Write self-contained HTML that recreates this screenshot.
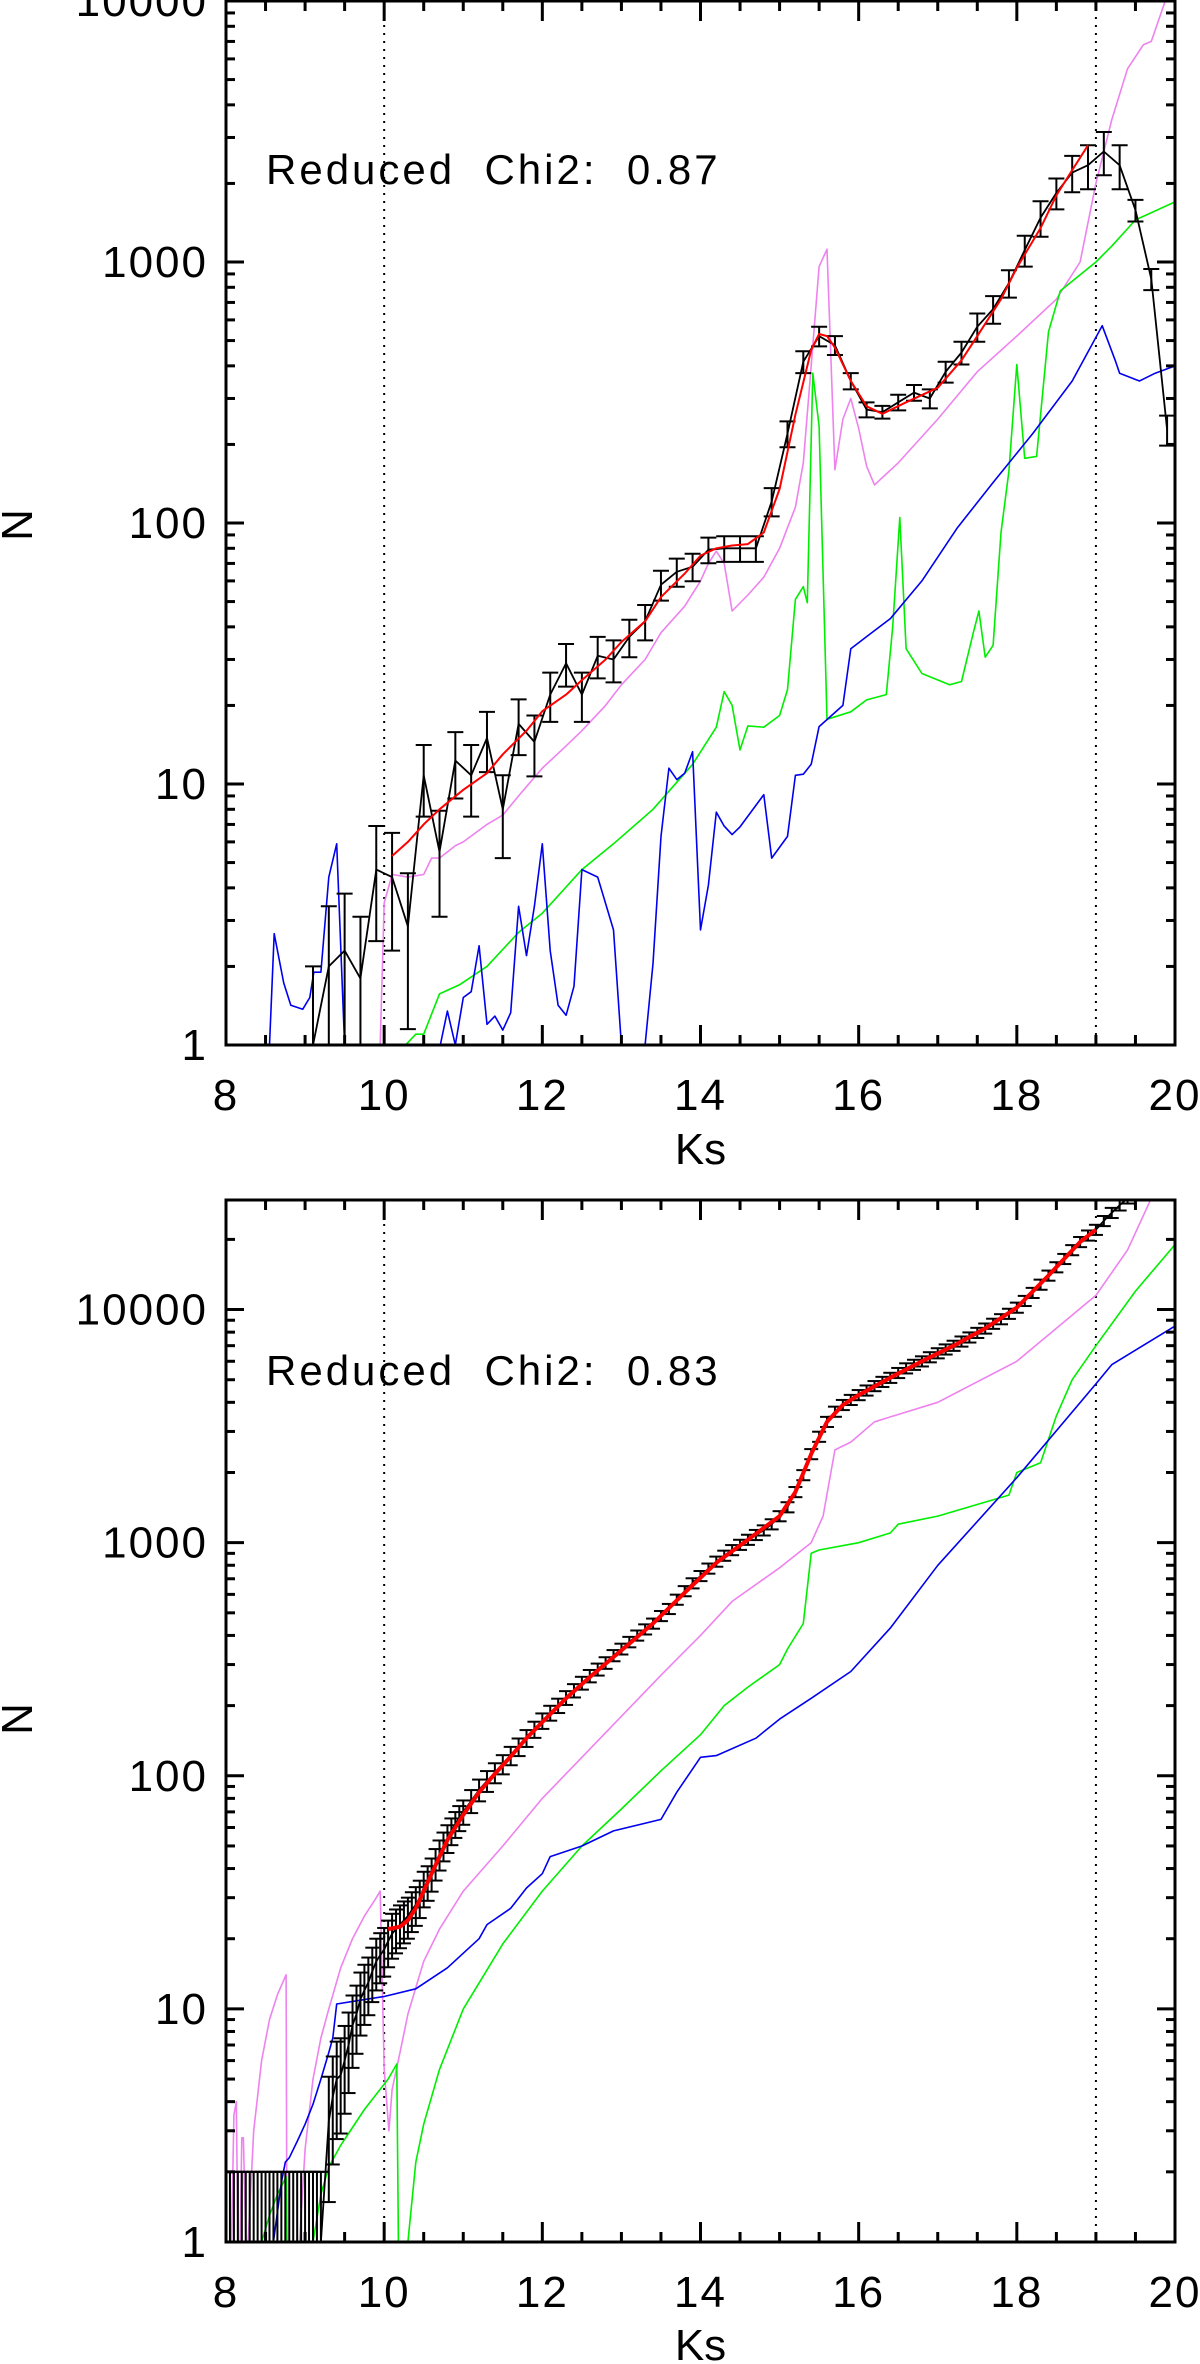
<!DOCTYPE html>
<html><head><meta charset="utf-8">
<style>
html,body{margin:0;padding:0;background:#fff;}
svg{display:block;}
text{font-family:"Liberation Sans","DejaVu Sans",sans-serif;fill:#000;}
</style></head>
<body>
<svg id="fig" width="1200" height="2364" viewBox="0 0 1200 2364" xmlns="http://www.w3.org/2000/svg"></svg>
<script>
// ---------- Top panel data ----------
const topObsX = [9.1,9.3,9.5,9.7,9.9,10.1,10.3,10.5,10.7,10.9,11.1,11.3,11.5,11.7,11.9,12.1,12.3,12.5,12.7,12.9,13.1,13.3,13.5,13.7,13.9,14.1,14.3,14.5,14.7,14.9,15.1,15.3,15.5,15.7,15.9,16.1,16.3,16.5,16.7,16.9,17.1,17.3,17.5,17.7,17.9,18.1,18.3,18.5,18.7,18.9,19.1,19.3,19.5,19.7,19.9];
const topObsN = [1,2,2.3,1.8,4.7,4.4,2.85,10.8,5.5,12.3,10.8,15,8,17,14.5,22,29,22,31,30,36.6,42,58,65,68,79,80,80,80,121,220,415,520,480,350,272,266,290,316,300,380,450,565,660,830,1110,1480,1840,2200,2350,2650,2350,1580,860,228];
const topObsErr = [1,1.4,1.5,1.3,2.2,2.1,1.7,3.3,2.4,3.5,3.3,3.9,2.8,4.1,3.8,4.7,5.4,4.7,5.6,5.5,6,6.5,7.6,8,8.2,8.9,9,9,9,15,25,40,45,40,25,18,15,20,22,25,35,45,70,80,100,150,230,250,350,450,500,450,150,80,30];
const topFitX = [10.1,10.3,10.5,10.7,11.0,11.3,11.5,11.8,12.0,12.3,12.5,12.8,13.0,13.3,13.5,13.8,14.0,14.2,14.4,14.6,14.8,15.0,15.2,15.4,15.5,15.6,15.7,15.9,16.1,16.3,16.6,17.0,17.3,17.5,17.8,18.0,18.3,18.5,18.7,18.9];
const topFitN = [5.3,6,7,8,9.5,11,13,16,19,22,25,30,35,42,52,64,75,80,82,83,92,135,260,460,530,520,470,350,280,262,290,330,420,520,720,950,1350,1800,2250,2800];
const topVioX = [9.95,10.0,10.1,10.3,10.5,10.6,10.7,10.9,11.0,11.3,11.5,11.7,12.0,12.3,12.5,12.8,13.0,13.3,13.5,13.8,14.0,14.1,14.2,14.3,14.4,14.6,14.8,15.0,15.2,15.3,15.4,15.5,15.6,15.7,15.8,15.9,16.0,16.1,16.2,16.5,17.0,17.5,18.0,18.5,18.8,19.0,19.2,19.4,19.6,19.7,19.9];
const topVioN = [1,3.5,4.5,4.4,4.5,5.2,5.2,5.8,6,7,7.6,9,11.5,14,16,20,24,30,38,48,60,70,78,70,46,53,62,80,115,170,400,960,1120,160,250,300,230,165,140,170,250,380,520,720,1000,2000,3500,5500,6800,7000,10500];
const topGrnX = [10.27,10.4,10.5,10.7,10.95,11.3,11.7,12.0,12.5,12.9,13.4,13.9,14.2,14.3,14.4,14.5,14.6,14.8,15.0,15.1,15.2,15.3,15.35,15.42,15.5,15.6,15.9,16.1,16.35,16.43,16.52,16.6,16.8,17.15,17.3,17.45,17.52,17.6,17.7,17.8,17.9,18.0,18.1,18.25,18.4,18.55,19.0,19.2,19.5,20.0];
const topGrnN = [1,1.1,1.1,1.57,1.7,2,2.7,3.2,4.7,5.9,8,11.9,16.5,22.6,20,13.5,16.7,16.5,18.3,23,51,57,49.5,375,235,17.7,18.9,21,22,40,105,33,26.5,24,24.7,38,46,30.6,34,92,158,405,177,180,540,775,1000,1150,1450,1700];
const topBluX = [8.55,8.61,8.73,8.82,8.97,9.06,9.11,9.2,9.3,9.4,9.5,
  10.71,10.8,10.9,11.0,11.1,11.2,11.3,11.4,11.5,11.6,11.7,11.8,11.9,12.0,12.1,12.2,12.3,12.4,12.5,12.7,12.9,13.0,
  13.3,13.4,13.5,13.6,13.7,13.8,13.9,14.0,14.1,14.2,14.3,14.4,14.5,14.8,14.9,15.1,15.2,15.3,15.4,15.5,15.8,15.9,16.1,16.4,16.8,17.25,17.7,18.2,18.7,19.08,19.25,19.3,19.55,19.75,20.0];
const topBluN = [1,2.67,1.73,1.42,1.37,1.52,1.9,1.9,4.4,5.9,1,
  1,1.35,1,1.52,1.6,2.4,1.2,1.29,1.14,1.33,3.4,2.2,3.4,5.9,2.3,1.42,1.3,1.68,4.7,4.4,2.76,1,
  1,2.05,6.3,11.5,10.4,11,13.3,2.76,4.1,7.8,6.9,6.4,6.85,9.1,5.2,6.3,10.8,10.9,11.9,16.6,20,33,36.7,43,60,96,143,220,350,570,415,375,350,375,400];
const topBluBreaks = [11,33];

// ---------- Bottom panel data ----------
const botObsX = [8.0,8.05,8.1,8.15,8.2,8.25,8.3,8.35,8.4,8.45,8.5,8.55,8.6,8.65,8.7,8.75,8.8,8.85,8.9,8.95,9.0,9.05,9.1,9.15,9.2,
  9.3,9.35,9.4,9.45,9.5,9.55,9.6,9.65,9.7,9.75,9.8,9.85,9.9,9.95,10.0,10.05,10.1,10.15,10.2,10.25,10.3,10.35,10.4,10.45,10.5,10.55,10.6,10.65,10.7,10.75,10.8,10.85,10.9,10.95,11.0,11.1,11.2,11.3,11.4,11.5,11.6,11.7,11.8,11.9,12.0,12.1,12.2,12.3,12.4,12.5,12.6,12.7,12.8,12.9,13.0,13.1,13.2,13.3,13.4,13.5,13.6,13.7,13.8,13.9,14.0,14.1,14.2,14.3,14.4,14.5,14.6,14.7,14.8,14.9,15.0,15.1,15.2,15.3,15.4,15.5,15.6,15.7,15.8,15.9,16.0,16.1,16.2,16.3,16.4,16.5,16.6,16.7,16.8,16.9,17.0,17.1,17.2,17.3,17.4,17.5,17.6,17.7,17.8,17.9,18.0,18.1,18.2,18.3,18.4,18.5,18.6,18.7,18.8,18.9,19.0,19.1,19.2,19.3,19.4];
const botObsN = [1,1,1,1,1,1,1,1,1,1,1,1,1,1,1,1,1,1,1,1,1,1,1,1,1,
  3.3,4.2,5,5.2,6,7,8.5,9.5,11,12,13,14.5,16,17,18,19.5,21,22,23,24,25,26.5,28,30,33,35,38,42,46,50,54,58,62,66,70,78,87,95,103,112,122,133,145,158,172,186,200,216,232,250,268,286,305,328,350,375,400,425,450,485,520,570,620,670,720,775,830,880,930,980,1030,1080,1130,1200,1300,1420,1650,1950,2400,2850,3300,3650,3900,4100,4300,4500,4700,4900,5100,5350,5600,5800,6000,6250,6500,6750,7000,7300,7600,7950,8300,8700,9100,9600,10200,10900,11800,12800,14000,15200,16500,18000,19500,20800,22000,24000,26000,28000,30000];
const botErrMinFrac = 0.05;
const botFitX = [10.05,10.2,10.3,10.4,10.5,10.6,10.7,10.8,11.0,11.2,11.4,11.6,11.8,12.0,12.3,12.6,13.0,13.4,13.8,14.2,14.6,15.0,15.2,15.4,15.6,15.8,16.0,16.4,16.8,17.2,17.6,18.0,18.4,18.8,19.0];
const botFitN = [22,22.5,24,27,32,38,45,53,68,85,102,121,145,170,215,265,345,450,610,820,1030,1300,1650,2400,3300,3900,4300,5100,6000,7000,8300,10200,14000,19500,22000];
const botVioX = [8.07,8.1,8.13,8.15,8.18,8.2,8.22,8.25,8.28,8.35,8.45,8.55,8.65,8.76,8.77,8.93,9.0,9.1,9.2,9.3,9.45,9.6,9.75,9.9,9.95,10.0,10.06,10.1,10.2,10.3,10.5,10.7,11.0,11.5,12.0,12.5,13.0,13.5,14.0,14.4,15.0,15.4,15.55,15.7,15.9,16.2,17.0,18.0,19.0,19.4,19.7];
const botVioN = [1,3.5,4,1,1,2.8,2.8,1,1,3,6,9,11.5,14,1,1,2.5,5,7.5,10,15,20,25,30,32,5.5,3,4.5,6.5,9.5,16,22,32,50,80,120,180,270,400,560,780,1000,1300,2500,2700,3300,4000,6000,11500,18000,30000];
const botVioBreaks = [15];
const botGrnX = [8.45,8.55,8.65,8.76,8.77, 9.1,9.2,9.3,9.45,9.6,9.75,9.9,10.05,10.16,10.18, 10.3,10.4,10.5,10.7,11.0,11.5,12.0,12.5,13.0,13.5,14.0,14.3,14.6,15.0,15.1,15.3,15.4,15.5,16.0,16.4,16.5,17.0,17.9,18.0,18.3,18.5,18.7,19.0,19.5,20.0];
const botGrnN = [1,1.3,1.6,1.9,1, 1,1.6,2.1,2.6,3.1,3.7,4.3,5,5.8,1, 1,2.2,3.2,5.5,10,19,32,50,72,105,150,200,240,300,350,450,900,930,1000,1100,1200,1300,1600,2000,2200,3500,5000,7000,12000,19000];
const botGrnBreaks = [5,15];
const botBluX = [8.6,8.7,8.75,8.8,8.9,9.0,9.1,9.2,9.3,9.35,9.4,9.7,10.0,10.4,10.8,11.2,11.3,11.6,11.8,12.0,12.1,12.5,12.9,13.5,13.7,14.0,14.2,14.7,15.0,15.4,15.9,16.4,17.0,18.0,19.0,19.2,20.0];
const botBluN = [1,1.8,2.2,2.3,2.7,3.2,3.9,5,6.5,7.5,10.5,10.9,11.3,12.2,15,20,23,27,33,38,45,50,58,65,85,120,122,145,175,215,280,430,800,1900,4800,5800,8500];

const panels = [
  {name:'top', x0:226, x1:1175, yTop:1, yBot:1045, lmin:0, lmax:4.0, chi:'Reduced  Chi2:  0.87', chiY:184,
   xlabY:1110, ksY:1164, nY:525, yTicks:[1,10,100,1000,10000], fitW:2, obsCap:8},
  {name:'bottom', x0:226, x1:1175, yTop:1200, yBot:2242, lmin:0, lmax:4.47, chi:'Reduced  Chi2:  0.83', chiY:1385,
   xlabY:2307, ksY:2360, nY:1719, yTicks:[1,10,100,1000,10000], fitW:4, obsCap:7}
];
const xTickVals = [8,10,12,14,16,18,20];

const NS='http://www.w3.org/2000/svg';
const svg=document.getElementById('fig');
function mk(tag,attrs,parent){const e=document.createElementNS(NS,tag);for(const k in attrs)e.setAttribute(k,attrs[k]);(parent||svg).appendChild(e);return e;}

function drawPanel(P, series){
  const g=mk('g',{});
  
  
  const sx=v=>P.x0+(v-8)/12*(P.x1-P.x0);
  const sy=v=>P.yBot-(Math.log10(v)-P.lmin)/(P.lmax-P.lmin)*(P.yBot-P.yTop);
  const cid='clip-'+P.name;
  const defs=mk('defs',{},g);
  const cp=mk('clipPath',{id:cid},defs);
  mk('rect',{x:P.x0,y:P.yTop,width:P.x1-P.x0,height:P.yBot-P.yTop},cp);
  const plot=mk('g',{'clip-path':'url(#'+cid+')'},g);
  [10,19].forEach(v=>{
    const l=mk('line',{x1:sx(v),x2:sx(v),y1:P.yTop,y2:P.yBot,stroke:'#000','stroke-width':2,'stroke-dasharray':'2,6'},plot);
    
    
  });
  function line(xs,ys,color,w,name,breaks){
    breaks=breaks||[];
    let d='';
    for(let i=0;i<xs.length;i++){
      const cmd=(i===0||breaks.indexOf(i)>=0)?'M':'L';
      const yv=Math.max(ys[i],0.5);
      d+=cmd+sx(xs[i]).toFixed(1)+','+sy(yv).toFixed(1);
    }
    const p=mk('path',{d:d,fill:'none',stroke:color,'stroke-width':w,'stroke-linejoin':'round'},plot);
    
    
  }
  line(series.vx,series.vy,'#ee82ee',1.6,P.name+'-violet-line',series.vb);
  line(series.gx,series.gy,'#00ee00',1.6,P.name+'-green-line',series.gb);
  line(series.bx,series.by,'#0000ee',1.6,P.name+'-blue-line',series.bb);
  const eg=mk('g',{stroke:'#000','stroke-width':2,fill:'none'},plot);
  
  
  for(let i=0;i<series.ox.length;i++){
    const n=series.oy[i], e=series.err(i);
    const x=sx(series.ox[i]);
    const lo=n-e>0?sy(n-e):P.yBot+5, hi=sy(n+e);
    mk('line',{x1:x,x2:x,y1:lo,y2:hi},eg);
    mk('line',{x1:x-P.obsCap,x2:x+P.obsCap,y1:hi,y2:hi},eg);
    if(n-e>0) mk('line',{x1:x-P.obsCap,x2:x+P.obsCap,y1:lo,y2:lo},eg);
  }
  line(series.ox,series.oy,'#000',1.8,P.name+'-observed-line');
  line(series.fx,series.fy,'#ff0000',P.fitW,P.name+'-model-fit-line');
  const fr=mk('rect',{x:P.x0,y:P.yTop,width:P.x1-P.x0,height:P.yBot-P.yTop,fill:'none',stroke:'#000','stroke-width':3},g);
  
  
  const tg=mk('g',{stroke:'#000','stroke-width':3},g);
  
  
  for(let v=8;v<=20.001;v+=0.5){
    const major=Math.abs(v-Math.round(v/2)*2)<1e-6;
    const L=major?20:10, x=sx(v);
    mk('line',{x1:x,x2:x,y1:P.yBot,y2:P.yBot-L},tg);
    mk('line',{x1:x,x2:x,y1:P.yTop,y2:P.yTop+L},tg);
  }
  for(let d=P.lmin;d<=Math.ceil(P.lmax);d++){
    for(let m=1;m<10;m++){
      const v=m*Math.pow(10,d), lv=Math.log10(v);
      if(lv>P.lmax+1e-6) break;
      const y=sy(v), L=m===1?18:9;
      mk('line',{x1:P.x0,x2:P.x0+L,y1:y,y2:y},tg);
      mk('line',{x1:P.x1,x2:P.x1-L,y1:y,y2:y},tg);
    }
  }
  xTickVals.forEach(v=>{
    const t=mk('text',{x:sx(v),y:P.xlabY,'text-anchor':'middle','font-size':44,'letter-spacing':2},g);
    t.textContent=v;
    
    
  });
  P.yTicks.forEach(v=>{
    const t=mk('text',{x:208,y:sy(v)+15,'text-anchor':'end','font-size':44,'letter-spacing':2},g);
    t.textContent=v;
    
    
  });
  const ks=mk('text',{x:(P.x0+P.x1)/2,y:P.ksY,'text-anchor':'middle','font-size':44},g);
  ks.textContent='Ks';
  
  
  const nt=mk('text',{x:0,y:0,'text-anchor':'middle','font-size':44,transform:'translate(32,'+P.nY+') rotate(-90)'},g);
  nt.textContent='N';
  
  
  const ct=mk('text',{x:266,y:P.chiY,'font-size':42,'letter-spacing':3,'xml:space':'preserve'},g);
  ct.setAttribute('style','white-space:pre');
  ct.textContent=P.chi;
  
  
}

drawPanel(panels[0],{ox:topObsX,oy:topObsN,err:i=>topObsErr[i],fx:topFitX,fy:topFitN,vx:topVioX,vy:topVioN,vb:[],gx:topGrnX,gy:topGrnN,gb:[],bx:topBluX,by:topBluN,bb:topBluBreaks});
drawPanel(panels[1],{ox:botObsX,oy:botObsN,err:i=>Math.max(Math.sqrt(botObsN[i]),botErrMinFrac*botObsN[i]),fx:botFitX,fy:botFitN,vx:botVioX,vy:botVioN,vb:botVioBreaks,gx:botGrnX,gy:botGrnN,gb:botGrnBreaks,bx:botBluX,by:botBluN,bb:[]});
</script>
</body></html>
